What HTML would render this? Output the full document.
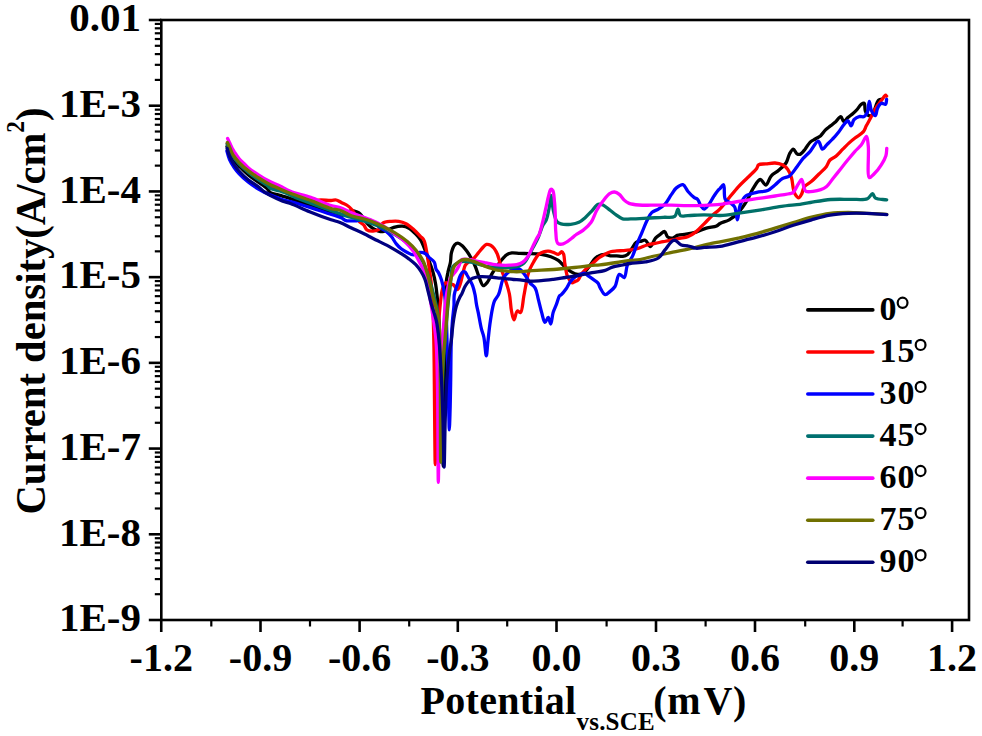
<!DOCTYPE html>
<html><head><meta charset="utf-8"><style>
html,body{margin:0;padding:0;background:#fff;}
svg{display:block;}
.t{font-family:"Liberation Serif",serif;font-weight:bold;font-size:40px;fill:#000;}
.lg{font-family:"Liberation Serif",serif;font-weight:bold;font-size:34px;letter-spacing:1px;fill:#000;}
</style></head><body>
<svg width="982" height="736" viewBox="0 0 982 736">
<g fill="none" stroke-width="2.6" stroke-linejoin="round" stroke-linecap="round">
<path d="M227.0,146.5 C227.8,148.3 228.6,150.1 229.5,152.0 C230.4,154.0 231.4,156.3 232.4,158.0 C233.2,159.4 234.0,160.3 235.0,161.5 C236.2,162.9 237.3,164.3 239.0,166.0 C241.5,168.5 245.2,172.3 248.5,175.0 C251.6,177.6 254.8,179.7 258.0,182.0 C261.2,184.3 265.4,187.0 267.5,189.0 C268.7,190.2 268.7,191.4 270.0,192.3 C272.1,193.8 277.4,194.6 280.2,195.4 C282.2,196.0 283.0,196.2 285.3,196.9 C290.6,198.6 302.5,202.6 310.7,205.5 C318.4,208.2 327.4,212.0 333.1,213.7 C336.5,214.7 338.9,216.0 341.3,215.7 C343.4,215.4 345.2,213.4 347.0,212.5 C348.6,211.7 350.3,210.8 351.5,210.6 C352.3,210.5 352.7,210.7 353.5,210.9 C354.8,211.2 357.3,211.9 358.6,212.7 C359.6,213.3 359.9,213.7 360.8,214.6 C362.6,216.5 365.6,221.8 368.1,224.4 C370.1,226.5 372.1,228.1 374.3,229.3 C376.3,230.4 378.3,231.5 380.4,231.7 C382.4,231.9 384.4,231.1 386.5,230.5 C388.9,229.8 391.2,228.1 393.8,227.4 C396.5,226.7 399.8,226.0 402.4,226.2 C404.6,226.4 406.5,226.9 408.5,228.0 C411.0,229.3 413.7,232.0 415.8,234.1 C417.7,236.0 419.2,237.7 420.6,240.0 C422.3,242.8 423.6,246.5 425.0,250.0 C426.5,253.8 428.1,258.1 429.5,262.0 C430.8,265.7 432.2,269.3 433.2,273.0 C434.2,276.6 434.9,280.0 435.6,284.0 C436.4,288.8 436.9,293.8 437.5,300.0 C438.3,308.4 438.9,318.7 439.5,330.0 C440.3,344.5 441.0,363.3 441.5,380.0 C442.0,396.7 442.2,414.7 442.5,430.0 C442.8,443.0 443.0,466.0 443.2,466.0 C443.5,466.0 443.8,434.8 444.0,420.0 C444.2,406.2 444.3,394.1 444.5,380.0 C444.7,364.3 444.8,344.5 445.0,330.0 C445.2,318.7 445.3,308.4 445.5,300.0 C445.6,293.8 445.5,288.8 446.0,284.0 C446.4,279.9 447.0,276.6 447.8,272.9 C448.5,269.2 449.9,265.5 450.5,262.0 C451.0,258.9 450.7,255.8 451.4,252.9 C452.1,250.1 453.3,246.4 454.7,244.8 C455.6,243.8 456.8,243.2 457.9,243.2 C459.2,243.2 460.7,244.5 462.0,245.6 C463.7,247.0 465.4,249.3 466.9,251.3 C468.4,253.3 469.7,255.5 471.0,257.8 C472.4,260.3 473.8,263.0 475.1,266.0 C476.6,269.4 477.7,273.9 479.2,277.4 C480.5,280.4 481.6,285.2 483.2,285.6 C484.4,285.9 486.0,283.8 487.3,282.3 C489.1,280.2 490.5,276.1 492.2,273.3 C493.8,270.7 495.4,268.3 497.1,266.0 C498.7,263.7 500.3,261.5 502.0,259.5 C503.6,257.7 505.1,255.7 506.9,254.6 C508.4,253.6 509.9,253.2 511.8,252.9 C514.2,252.6 517.2,253.3 520.0,253.4 C522.9,253.5 525.7,253.5 528.9,253.6 C532.7,253.7 537.4,253.7 541.2,254.3 C544.7,254.8 547.9,255.6 550.9,256.7 C553.6,257.7 556.1,258.8 558.3,260.4 C560.6,262.0 562.3,264.6 564.4,266.5 C566.4,268.3 568.3,270.1 570.5,271.4 C572.8,272.7 575.5,274.3 577.9,274.4 C580.0,274.5 582.1,273.8 584.0,272.6 C586.3,271.1 588.2,267.7 590.1,265.3 C591.9,262.9 593.3,260.0 595.3,258.2 C597.1,256.6 599.4,255.4 601.4,254.8 C603.0,254.3 604.5,254.3 606.0,254.5 C607.5,254.7 608.9,255.6 610.5,255.8 C612.4,256.1 614.6,255.7 616.7,255.8 C618.7,255.9 620.9,256.7 622.8,256.4 C624.5,256.2 626.2,255.6 627.6,254.5 C629.3,253.2 630.5,250.4 631.9,248.4 C633.3,246.4 634.6,243.4 636.2,242.3 C637.4,241.5 638.8,241.8 640.2,241.5 C641.8,241.2 643.7,239.8 645.3,240.3 C647.2,240.9 648.8,246.6 650.4,246.5 C652.2,246.4 653.6,240.3 655.5,238.2 C657.0,236.5 658.9,235.4 660.5,234.2 C661.9,233.2 663.4,231.2 664.6,231.5 C665.9,231.8 666.2,235.9 667.7,237.0 C669.0,238.0 671.1,238.3 672.8,238.0 C674.6,237.7 675.9,235.8 677.9,235.2 C680.2,234.4 683.2,234.7 686.0,234.2 C689.2,233.7 692.8,233.1 696.2,232.1 C699.6,231.1 703.0,229.1 706.4,228.1 C709.8,227.1 714.2,227.1 716.6,226.0 C718.1,225.3 718.5,224.3 720.0,223.5 C722.3,222.2 726.3,221.5 729.2,219.8 C732.4,217.9 735.5,215.5 738.3,212.5 C741.6,209.0 745.0,203.8 747.5,199.6 C749.7,195.9 750.8,192.0 753.0,188.6 C755.1,185.3 758.0,179.6 760.3,179.5 C762.2,179.4 764.1,185.2 765.8,185.0 C767.8,184.8 769.0,178.3 771.3,175.8 C773.4,173.5 776.3,172.4 778.7,170.3 C781.2,168.1 784.2,165.8 786.0,163.0 C787.8,160.3 788.2,156.3 789.6,153.8 C790.7,151.9 792.1,149.2 793.3,149.2 C794.5,149.2 795.7,153.0 797.0,153.8 C798.0,154.4 799.0,154.6 800.0,154.3 C801.6,153.8 803.5,151.1 805.1,149.2 C806.9,147.1 808.3,143.9 810.2,142.1 C811.8,140.6 813.6,140.0 815.3,139.0 C817.0,138.0 818.8,137.3 820.4,136.0 C822.2,134.4 823.7,131.7 825.5,129.9 C827.1,128.3 828.9,127.2 830.6,125.8 C832.3,124.4 834.0,123.2 835.7,121.7 C837.4,120.1 839.4,116.4 840.8,116.6 C842.1,116.8 842.6,121.5 843.8,121.7 C845.0,121.9 846.4,118.9 847.9,117.6 C849.5,116.2 851.4,114.9 853.0,113.5 C854.5,112.2 855.8,111.0 857.1,109.5 C858.5,107.9 859.8,105.4 861.2,104.4 C862.2,103.7 863.5,102.9 864.2,103.3 C865.2,103.9 864.6,108.5 865.2,110.5 C865.7,112.1 866.2,113.8 867.3,114.6 C868.3,115.4 870.1,116.2 871.4,115.6 C874.0,114.3 876.2,102.4 878.5,100.3 C879.5,99.4 880.5,99.6 881.5,99.3" stroke="#000000" stroke-width="3.3"/>
<path d="M227.3,143.5 C228.0,145.2 228.7,146.7 229.5,148.5 C230.4,150.5 231.1,152.8 232.4,155.0 C234.0,157.7 236.5,160.8 239.0,163.5 C241.8,166.5 245.2,169.5 248.5,172.0 C251.6,174.4 254.8,176.5 258.0,178.5 C261.1,180.5 264.1,182.3 267.5,184.0 C271.3,185.9 276.0,187.8 280.0,189.5 C283.6,191.1 286.3,192.5 290.4,194.0 C296.0,196.1 305.0,199.8 310.7,200.5 C314.6,201.0 317.5,200.0 320.9,200.0 C324.3,200.0 328.3,200.6 331.1,200.5 C333.1,200.5 334.5,199.7 336.2,200.0 C337.9,200.3 339.5,201.6 341.3,202.5 C343.2,203.5 345.6,204.2 347.4,205.5 C349.2,206.7 350.8,208.3 352.2,210.0 C353.7,211.8 354.8,214.0 356.0,216.0 C357.2,217.9 358.2,220.3 359.6,221.8 C360.8,223.1 362.5,223.6 363.7,224.9 C365.0,226.3 365.4,228.9 366.9,229.9 C368.5,231.0 371.0,231.2 373.0,231.1 C375.0,231.0 377.5,230.5 379.1,229.3 C380.8,228.0 380.9,224.4 382.8,223.1 C384.9,221.6 388.6,221.6 391.4,221.3 C393.9,221.0 396.3,220.9 398.7,221.3 C401.2,221.7 403.7,222.5 406.0,223.7 C408.6,225.0 411.0,227.2 413.4,229.3 C415.9,231.5 418.8,234.6 420.7,236.6 C422.0,237.9 423.0,238.4 423.8,240.0 C425.1,242.3 425.6,246.3 426.3,249.8 C427.1,253.6 427.7,258.0 428.3,262.0 C428.9,265.7 429.4,269.5 429.9,272.9 C430.3,275.8 430.6,277.7 431.0,281.0 C431.5,286.0 432.1,292.5 432.5,300.0 C433.1,310.9 433.5,325.3 433.8,340.0 C434.2,358.0 434.3,379.6 434.5,400.0 C434.7,421.1 435.0,464.6 435.2,464.6 C435.5,464.6 435.7,419.0 436.0,400.0 C436.2,385.1 436.3,371.8 436.6,360.0 C436.8,350.7 437.0,342.5 437.5,335.0 C437.9,328.8 438.5,323.6 439.0,318.0 C439.5,312.6 439.9,307.0 440.5,302.0 C441.1,297.4 441.4,292.5 442.5,289.0 C443.3,286.4 444.3,283.2 445.7,282.7 C446.7,282.3 447.8,283.7 449.0,284.0 C450.3,284.4 452.0,284.1 453.3,284.8 C454.9,285.7 456.4,289.7 457.6,289.5 C458.8,289.3 459.5,286.0 460.3,283.7 C461.4,280.7 462.1,276.2 463.0,272.9 C463.8,270.1 464.1,267.2 465.3,265.2 C466.3,263.5 467.9,262.3 469.4,261.1 C470.9,259.9 472.8,259.1 474.3,257.8 C475.8,256.4 477.0,254.5 478.3,252.9 C479.7,251.3 481.0,249.5 482.4,248.0 C483.7,246.7 485.0,244.8 486.5,244.4 C487.8,244.1 489.4,244.6 490.6,245.2 C491.8,245.8 492.8,246.8 493.8,248.0 C495.0,249.5 496.2,251.4 497.1,253.5 C498.2,255.9 498.8,258.8 499.6,261.6 C500.4,264.6 501.0,267.8 502.0,271.0 C503.0,274.4 504.5,277.6 505.7,281.2 C507.0,285.2 508.5,289.4 509.4,294.0 C510.5,299.2 510.5,306.3 511.5,311.0 C512.2,314.5 513.0,319.9 514.0,319.9 C515.0,319.9 515.8,311.6 517.3,311.0 C518.2,310.6 519.6,313.0 520.5,312.6 C522.4,311.7 522.8,301.4 523.8,296.3 C524.7,291.7 525.3,287.5 526.2,283.3 C527.0,279.2 527.6,275.1 528.9,271.4 C530.2,267.9 532.1,264.6 533.8,261.6 C535.4,258.9 536.8,256.0 538.7,254.3 C540.2,253.0 541.9,252.3 543.6,251.8 C545.2,251.3 546.9,251.1 548.5,251.2 C550.1,251.3 551.8,251.9 553.4,252.4 C555.1,252.9 556.9,254.5 558.3,254.3 C559.6,254.1 560.8,251.6 561.7,251.7 C562.5,251.8 563.1,253.0 563.6,254.2 C564.4,256.2 564.4,260.4 564.8,263.3 C565.2,265.9 565.6,268.5 566.0,270.7 C566.4,272.5 566.6,274.1 567.2,275.6 C567.7,276.9 568.3,278.0 569.1,279.2 C569.9,280.5 571.0,282.7 572.1,282.9 C572.9,283.1 573.7,282.2 574.6,281.7 C575.7,281.1 577.2,280.8 578.2,279.8 C579.5,278.5 580.1,276.0 581.3,274.3 C582.5,272.6 584.1,270.9 585.6,269.4 C587.1,267.9 588.9,266.6 590.5,265.2 C592.0,263.9 593.3,262.7 594.7,261.5 C596.1,260.3 597.4,259.0 599.0,257.8 C600.8,256.5 603.0,255.2 605.0,254.2 C606.8,253.2 608.6,252.3 610.5,251.7 C612.5,251.1 614.7,251.1 616.7,250.9 C618.7,250.7 620.5,250.8 622.6,250.7 C625.1,250.5 628.0,250.3 630.7,249.9 C633.4,249.5 636.2,249.0 638.9,248.2 C641.6,247.4 644.3,245.8 647.0,245.0 C649.7,244.2 652.5,243.9 655.2,243.3 C657.9,242.8 660.6,242.2 663.3,241.7 C666.0,241.2 668.8,240.7 671.5,240.1 C674.2,239.6 676.9,238.9 679.6,238.4 C682.3,237.8 685.2,237.8 687.8,236.8 C690.6,235.7 693.3,233.9 695.9,231.9 C698.8,229.7 701.4,226.5 704.1,223.8 C706.8,221.1 709.5,218.2 712.2,215.6 C714.8,213.2 717.4,211.5 720.0,208.8 C723.1,205.7 726.1,201.5 729.2,197.8 C732.2,194.1 735.2,190.2 738.3,186.8 C741.3,183.5 744.4,180.7 747.5,177.7 C750.6,174.6 754.9,171.0 756.7,168.5 C757.7,167.1 757.4,165.6 758.5,164.8 C760.0,163.7 763.2,164.2 765.8,163.9 C768.7,163.6 772.1,162.8 775.0,163.0 C777.6,163.2 780.1,163.7 782.3,164.8 C784.4,165.9 786.3,167.4 787.8,169.4 C789.5,171.6 790.6,174.7 791.5,177.7 C792.5,181.0 792.6,185.6 793.3,188.6 C793.8,190.8 794.1,192.5 795.1,194.1 C796.0,195.6 797.7,197.9 798.8,197.8 C799.8,197.7 800.8,195.6 801.6,194.1 C802.7,192.1 802.8,188.9 804.3,186.8 C806.0,184.5 809.2,183.4 811.6,181.3 C814.1,179.1 816.5,176.4 819.0,174.0 C821.4,171.6 824.4,169.2 826.3,166.7 C827.9,164.5 828.4,161.7 830.0,160.0 C831.5,158.4 833.8,157.9 835.7,156.4 C838.0,154.5 840.5,151.5 842.8,149.2 C844.9,147.1 846.8,145.0 848.9,143.1 C850.9,141.3 852.8,139.7 855.0,138.0 C857.5,136.0 861.3,134.2 863.2,131.9 C864.8,130.0 865.2,127.9 866.3,125.8 C867.5,123.5 869.1,120.9 870.3,118.6 C871.4,116.5 872.3,114.6 873.4,112.5 C874.6,110.2 876.1,107.5 877.5,105.4 C878.8,103.5 880.2,102.0 881.5,100.3 C882.9,98.6 884.7,95.3 885.6,95.2 C886.0,95.2 886.3,95.9 886.6,96.2" stroke="#ff0000" stroke-width="3.3"/>
<path d="M226.9,151.0 C227.7,153.7 228.2,156.3 229.3,159.0 C230.6,161.9 232.5,165.2 234.3,167.8 C235.8,170.0 237.1,171.5 239.0,173.5 C241.5,176.2 245.2,179.6 248.5,182.2 C251.6,184.7 255.1,187.0 258.0,188.8 C260.4,190.3 262.7,191.4 264.8,192.5 C266.6,193.4 267.9,193.9 270.0,194.8 C273.3,196.2 279.0,198.5 282.7,199.7 C285.6,200.6 287.2,200.7 290.4,201.5 C295.6,202.9 304.4,205.6 310.7,207.6 C316.2,209.3 320.9,211.0 326.0,212.7 C331.1,214.4 337.7,216.1 341.3,217.8 C343.4,218.8 344.4,220.2 346.1,220.7 C347.8,221.2 349.7,220.8 351.5,220.8 C353.2,220.8 354.9,221.0 356.6,220.8 C358.3,220.6 359.7,220.0 361.6,219.8 C364.0,219.6 367.2,219.0 370.0,220.0 C373.5,221.2 377.3,225.9 380.4,228.0 C382.7,229.5 384.7,230.3 386.5,231.7 C388.3,233.1 389.9,234.7 391.4,236.6 C393.1,238.7 394.6,241.8 396.3,243.9 C397.8,245.8 399.4,247.4 401.2,248.8 C403.0,250.2 405.2,251.5 407.3,252.5 C409.3,253.5 411.4,254.9 413.4,254.9 C415.4,254.9 417.4,252.7 419.5,252.5 C421.5,252.3 423.9,252.8 425.6,253.7 C427.2,254.6 428.2,256.5 429.6,257.9 C431.1,259.3 433.1,260.2 434.2,262.0 C435.4,263.9 435.2,267.4 436.1,269.3 C436.8,270.8 437.8,271.4 438.6,272.9 C439.6,274.8 440.6,277.2 441.5,280.0 C442.7,284.0 443.9,289.6 444.6,294.6 C445.4,299.6 445.6,304.0 446.0,310.0 C446.5,318.3 446.7,329.3 447.0,340.0 C447.4,352.4 447.7,367.3 448.0,380.0 C448.3,391.7 448.5,404.3 448.8,413.5 C449.0,419.9 449.1,429.8 449.3,429.8 C449.5,429.8 449.8,419.5 450.0,413.0 C450.3,403.8 450.5,391.5 450.7,380.0 C450.9,367.3 450.9,350.8 451.3,340.0 C451.6,332.7 451.9,327.5 452.4,321.5 C452.8,315.9 453.7,310.1 454.0,305.2 C454.2,301.3 453.7,298.1 454.3,294.6 C454.9,291.0 456.5,287.1 457.6,283.7 C458.5,280.8 459.2,277.7 460.3,275.6 C461.1,274.0 462.0,272.2 463.0,271.8 C463.6,271.5 464.4,271.6 465.0,272.0 C465.8,272.5 466.3,273.8 467.0,275.0 C468.0,276.6 469.2,278.9 470.2,280.7 C471.1,282.4 471.9,283.7 472.6,285.6 C473.6,288.2 474.4,291.8 475.1,295.0 C475.7,298.1 475.9,301.3 476.5,304.4 C477.0,307.4 477.7,309.9 478.4,313.3 C479.3,317.8 480.3,324.6 481.4,328.9 C482.2,332.1 483.1,333.7 483.8,337.0 C484.9,341.9 485.6,355.8 486.3,355.8 C486.9,355.8 487.3,347.0 487.9,341.9 C488.6,335.6 489.3,327.6 490.4,320.7 C491.5,314.0 492.5,305.8 494.4,301.2 C495.6,298.3 497.3,297.4 498.5,294.7 C500.2,290.9 501.3,283.2 502.6,280.0 C503.3,278.3 503.6,277.5 504.5,276.3 C505.7,274.7 507.7,272.7 509.4,271.4 C510.9,270.3 512.6,269.3 514.3,268.9 C515.9,268.5 517.6,268.3 519.1,268.9 C520.9,269.6 522.5,271.9 524.0,273.8 C525.7,275.9 527.8,279.5 528.9,281.2 C529.5,282.1 529.6,282.5 530.3,283.3 C531.4,284.6 533.9,285.9 535.2,288.1 C536.9,291.0 537.3,295.6 538.4,299.6 C539.5,303.8 540.5,308.6 541.7,312.6 C542.7,316.1 543.7,322.2 545.0,322.4 C546.0,322.5 547.3,317.4 548.2,317.5 C549.2,317.6 550.0,324.1 550.7,324.0 C551.7,323.9 552.1,316.0 553.1,312.6 C554.0,309.6 555.3,307.2 556.4,304.4 C557.5,301.6 558.4,297.2 559.5,295.8 C560.0,295.1 560.5,295.3 561.2,294.7 C562.5,293.6 564.5,291.1 566.0,289.0 C567.6,286.8 568.7,283.8 570.3,281.7 C571.8,279.8 573.5,277.9 575.2,276.8 C576.6,275.9 577.9,275.6 579.4,275.0 C581.0,274.4 582.8,272.9 584.3,273.1 C585.8,273.3 587.2,275.2 588.6,276.2 C590.0,277.2 591.4,278.1 592.9,279.2 C594.5,280.4 596.6,281.4 597.8,282.9 C599.0,284.3 599.2,286.1 600.2,287.8 C601.5,290.0 603.4,294.4 605.2,294.7 C606.7,295.0 608.5,292.7 610.1,291.4 C611.8,290.0 613.6,288.7 615.0,286.5 C616.9,283.5 617.3,275.0 619.3,274.3 C620.7,273.8 622.9,278.1 624.2,277.6 C626.1,276.9 625.9,268.2 627.5,264.5 C628.8,261.4 630.9,259.5 632.4,256.4 C634.2,252.6 635.6,247.5 637.3,243.3 C638.9,239.3 640.6,235.7 642.2,231.9 C643.8,228.1 645.3,223.9 647.0,220.5 C648.5,217.5 649.8,214.3 651.9,212.4 C653.7,210.7 656.3,210.4 658.4,209.1 C660.7,207.7 663.0,206.3 665.0,204.2 C667.4,201.6 669.4,197.3 671.5,194.4 C673.2,192.0 674.4,189.5 676.4,187.9 C678.3,186.4 681.0,184.3 682.9,184.7 C684.9,185.2 686.0,189.1 687.8,191.2 C689.7,193.4 692.4,196.3 694.3,197.7 C695.5,198.6 696.6,198.3 697.6,199.3 C699.0,200.7 699.6,204.2 700.8,205.9 C701.8,207.3 702.9,209.1 704.1,209.1 C705.6,209.1 707.5,206.1 709.0,204.2 C710.8,201.9 712.2,198.6 713.9,196.1 C715.5,193.8 717.5,190.8 718.7,189.6 C719.2,189.1 719.5,189.1 720.0,188.6 C720.9,187.8 722.7,184.4 723.6,184.7 C725.1,185.2 723.4,196.2 725.3,199.3 C726.6,201.5 729.4,201.9 731.0,203.3 C732.4,204.5 733.7,205.2 734.7,207.0 C736.2,209.8 736.5,219.8 737.4,219.8 C738.3,219.8 738.6,209.3 740.2,205.1 C741.6,201.6 743.0,198.1 745.7,196.0 C748.5,193.8 753.0,193.2 756.7,192.3 C760.3,191.4 764.5,191.8 767.7,190.5 C770.6,189.3 772.6,186.9 775.0,185.0 C777.5,183.0 779.7,180.2 782.3,178.6 C784.6,177.2 787.4,177.4 789.6,175.8 C792.3,173.8 794.7,169.7 797.0,166.7 C799.2,163.9 800.9,161.0 803.1,158.4 C805.3,155.9 807.8,154.0 810.2,151.3 C812.9,148.3 816.2,140.9 818.3,141.1 C820.1,141.3 820.8,149.0 822.4,149.2 C823.6,149.4 825.0,146.6 826.5,145.1 C828.3,143.3 830.6,141.2 832.6,139.0 C834.7,136.8 836.8,134.3 838.7,131.9 C840.5,129.6 842.1,126.8 843.8,124.8 C845.2,123.2 846.7,120.6 847.9,120.7 C849.1,120.8 850.0,125.8 851.0,125.8 C852.1,125.8 852.6,121.3 854.0,119.7 C855.3,118.2 857.3,117.1 859.1,116.6 C860.7,116.1 862.8,117.3 864.2,116.6 C865.6,115.9 866.5,114.3 867.3,112.5 C868.5,109.8 868.6,101.3 869.3,101.3 C870.0,101.3 870.2,108.0 871.4,110.5 C872.4,112.6 874.4,115.8 875.4,115.6 C876.5,115.4 876.4,110.5 877.5,108.4 C878.5,106.4 880.0,103.8 881.5,103.3 C882.7,102.9 884.7,104.9 885.6,104.4 C886.6,103.8 886.3,101.0 886.6,99.3" stroke="#0000ff" stroke-width="3.3"/>
<path d="M227.2,144.0 C228.0,145.8 228.7,147.6 229.5,149.5 C230.4,151.5 231.1,153.4 232.4,155.5 C234.1,158.2 236.5,161.3 239.0,164.0 C241.8,167.0 245.3,169.9 248.5,172.5 C251.6,175.0 254.8,177.3 258.0,179.5 C261.1,181.6 265.4,183.8 267.5,185.5 C268.7,186.5 268.7,187.4 270.0,188.2 C272.1,189.5 276.1,189.7 280.0,191.0 C285.7,192.9 293.0,196.5 300.5,199.4 C309.7,202.9 321.9,207.4 331.1,210.6 C338.6,213.2 344.8,215.4 351.5,217.5 C357.8,219.5 364.4,221.0 370.0,222.9 C374.7,224.5 378.6,226.1 382.8,228.0 C387.0,229.9 391.0,232.1 395.0,234.5 C399.2,237.0 403.7,240.0 407.3,243.0 C410.5,245.7 413.2,248.3 415.8,251.5 C418.5,254.8 421.3,258.9 423.2,262.5 C424.9,265.7 425.8,268.6 427.0,272.0 C428.4,276.0 429.7,280.7 431.0,285.0 C432.2,289.3 433.4,293.6 434.5,298.0 C435.6,302.6 436.7,306.7 437.5,312.0 C438.5,318.7 439.0,326.0 439.5,335.0 C440.2,347.5 440.2,362.8 440.5,380.0 C440.9,403.3 440.9,462.0 441.2,462.0 C441.4,462.0 441.5,418.4 442.0,400.0 C442.4,385.2 442.8,371.3 443.5,360.0 C444.0,351.6 444.7,345.3 445.3,338.0 C445.9,330.7 446.4,322.7 447.0,316.0 C447.5,310.2 448.0,304.7 448.5,300.0 C448.9,296.3 449.4,293.5 449.8,290.0 C450.2,286.2 450.6,281.8 451.0,278.0 C451.4,274.5 451.2,270.4 452.2,268.0 C452.9,266.4 453.8,265.5 455.0,264.5 C456.3,263.4 458.2,262.5 460.0,262.0 C461.9,261.5 464.0,261.4 466.0,261.5 C468.2,261.6 470.3,262.0 472.6,262.5 C475.2,263.1 478.0,264.3 480.8,265.0 C483.8,265.8 486.9,266.6 490.0,267.0 C493.2,267.4 496.7,267.4 500.0,267.5 C503.3,267.6 506.9,267.7 510.0,267.5 C512.8,267.3 515.6,267.3 518.0,266.5 C520.2,265.7 522.3,264.6 524.0,263.0 C525.7,261.4 526.7,259.3 528.0,257.0 C529.6,254.2 531.3,250.7 533.0,247.5 C534.7,244.3 536.4,241.5 538.0,238.0 C539.8,234.1 541.3,228.3 543.0,225.0 C544.1,222.8 545.4,222.1 546.3,219.8 C547.8,216.3 548.8,209.6 549.6,205.2 C550.2,201.6 550.3,195.4 550.8,195.4 C551.5,195.4 552.4,207.0 553.6,211.7 C554.5,215.4 555.3,219.5 556.9,221.5 C558.0,222.9 559.3,223.4 561.0,223.9 C563.5,224.6 567.6,224.6 570.7,224.3 C573.6,224.0 576.4,223.5 578.9,222.3 C581.3,221.2 583.3,219.2 585.4,217.4 C587.6,215.5 589.8,213.1 591.9,210.9 C594.0,208.7 595.9,204.9 598.1,204.2 C599.7,203.7 601.3,204.3 603.0,205.0 C605.1,205.9 607.4,208.3 609.6,209.9 C611.8,211.5 613.9,213.3 616.1,214.8 C618.2,216.3 620.2,218.2 622.6,218.9 C625.1,219.6 627.5,219.0 630.7,218.9 C635.2,218.8 641.6,218.4 647.0,218.1 C652.4,217.8 658.4,217.6 663.3,217.3 C667.4,217.0 672.3,218.1 674.7,216.4 C676.7,215.0 677.0,209.1 678.0,209.1 C678.9,209.1 678.8,214.5 680.4,215.6 C682.0,216.7 684.9,215.7 687.8,215.6 C692.2,215.5 698.7,214.8 704.1,214.8 C709.5,214.8 714.7,215.7 720.4,215.5 C726.8,215.2 733.9,213.8 740.7,212.9 C747.5,212.0 754.3,211.0 761.1,209.9 C767.9,208.8 774.9,207.2 781.5,206.3 C787.8,205.4 794.7,205.0 800.0,204.3 C804.0,203.7 806.4,203.1 810.4,202.5 C816.0,201.6 823.9,200.0 830.7,199.5 C837.5,199.0 844.7,199.4 851.1,199.3 C856.8,199.2 863.7,200.3 867.4,198.7 C869.9,197.6 871.1,193.6 872.5,193.7 C873.7,193.8 873.9,197.2 875.5,198.2 C877.9,199.7 883.0,199.3 886.7,199.8" stroke="#007068" stroke-width="3.3"/>
<path d="M227.6,138.5 C228.2,139.8 228.8,141.1 229.5,142.5 C230.3,144.1 231.2,146.2 232.0,147.8 C232.8,149.2 233.4,150.3 234.3,151.8 C235.6,153.8 237.3,156.5 239.0,158.5 C240.6,160.4 242.4,161.9 244.0,163.5 C245.5,165.0 246.6,166.4 248.5,168.0 C251.0,170.1 254.8,172.5 258.0,174.6 C261.1,176.6 264.1,178.5 267.5,180.3 C271.3,182.3 276.0,184.1 280.0,186.0 C283.6,187.8 286.3,189.6 290.4,191.3 C296.0,193.5 304.0,195.1 310.7,197.4 C317.5,199.8 325.6,203.8 331.1,205.5 C334.6,206.6 336.9,206.5 340.0,207.5 C343.6,208.7 347.5,211.1 351.5,212.7 C355.7,214.4 361.1,216.2 364.5,217.5 C366.7,218.3 367.8,218.6 370.0,219.5 C373.4,220.9 378.7,223.2 382.8,225.6 C387.0,228.1 391.2,231.3 395.0,234.1 C398.5,236.6 401.8,238.7 404.8,241.5 C407.9,244.4 410.9,247.8 413.4,251.3 C415.8,254.7 417.5,258.7 419.5,262.3 C421.4,265.9 423.5,268.7 425.0,272.9 C426.9,278.2 427.6,285.2 428.9,292.0 C430.3,299.7 431.8,308.6 433.0,316.7 C434.2,324.6 435.3,331.2 436.0,340.0 C436.9,351.5 437.0,363.6 437.4,380.0 C438.0,406.2 438.0,482.3 438.3,482.3 C438.6,482.3 438.8,439.6 439.2,420.0 C439.6,402.4 439.9,384.5 440.5,370.0 C441.0,358.7 441.8,349.0 442.4,340.0 C442.9,332.7 443.5,326.5 444.0,320.0 C444.5,313.8 444.8,307.5 445.5,302.0 C446.1,297.3 446.6,293.1 447.5,289.0 C448.3,285.2 449.0,281.0 450.5,278.0 C451.8,275.5 454.0,273.8 455.4,271.8 C456.7,270.0 457.6,268.3 458.7,266.3 C459.8,264.2 460.3,260.6 462.0,259.5 C463.6,258.5 466.2,259.3 468.5,259.5 C471.1,259.7 474.0,260.6 476.7,261.1 C479.4,261.6 482.2,262.1 484.9,262.7 C487.6,263.2 490.3,264.0 493.0,264.4 C495.7,264.8 498.5,265.1 501.2,265.2 C503.9,265.3 506.7,265.3 509.3,265.2 C511.8,265.1 514.4,265.1 516.7,264.6 C518.9,264.1 521.0,263.5 522.8,262.2 C524.7,260.9 526.2,258.9 527.7,256.7 C529.5,254.0 531.0,250.2 532.6,246.9 C534.2,243.6 536.3,239.1 537.5,237.1 C538.1,236.1 538.5,236.1 539.0,235.0 C540.2,232.4 541.8,225.4 543.0,220.6 C544.2,215.8 545.3,210.5 546.3,206.0 C547.2,202.2 547.8,198.4 548.7,195.4 C549.4,193.1 549.8,189.6 550.8,189.3 C551.4,189.1 552.3,189.7 552.8,190.5 C554.0,192.3 554.1,197.9 554.5,201.9 C555.0,206.3 555.1,210.9 555.3,215.7 C555.5,220.9 555.3,227.1 555.8,232.0 C556.2,236.1 555.9,241.5 557.7,243.2 C559.0,244.4 561.3,244.4 563.2,243.9 C565.8,243.3 569.5,240.0 571.7,238.3 C573.3,237.1 574.0,236.1 575.6,235.0 C577.6,233.5 580.6,232.3 583.0,230.4 C585.8,228.2 588.9,225.5 591.1,222.3 C593.4,219.0 594.5,214.3 596.5,210.7 C598.4,207.2 600.7,203.9 603.0,201.0 C605.1,198.3 607.4,195.1 609.6,193.6 C611.2,192.6 612.8,191.9 614.4,192.0 C616.0,192.1 617.8,193.2 619.3,194.4 C621.1,195.8 622.5,198.5 624.2,200.1 C625.7,201.5 627.1,202.6 629.1,203.4 C631.7,204.4 635.2,204.7 638.9,205.0 C643.6,205.4 649.8,205.2 655.2,205.2 C660.6,205.2 666.1,205.1 671.5,205.2 C676.9,205.3 682.4,205.6 687.8,205.6 C693.2,205.6 698.7,205.5 704.1,205.3 C709.5,205.1 714.9,204.9 720.4,204.3 C726.2,203.7 732.3,202.4 738.3,201.5 C744.4,200.6 750.6,199.6 756.7,198.7 C762.8,197.8 769.1,196.9 775.0,196.0 C780.6,195.1 788.8,194.1 791.5,193.2 C792.4,192.9 792.6,192.9 793.3,192.3 C794.8,190.9 797.2,185.5 798.8,183.2 C799.8,181.7 800.8,179.4 801.6,179.5 C802.8,179.7 803.3,186.5 804.3,188.6 C804.9,189.9 804.9,190.9 806.1,191.4 C808.5,192.5 817.2,190.7 820.8,189.6 C823.2,188.9 824.5,188.3 826.3,186.8 C828.8,184.8 831.2,180.7 833.6,177.7 C836.1,174.6 838.5,171.6 841.0,168.5 C843.4,165.4 845.9,162.2 848.3,159.3 C850.6,156.5 852.8,153.8 855.0,151.3 C857.1,149.1 859.3,147.5 861.2,145.1 C863.2,142.6 865.3,136.3 866.5,136.5 C867.7,136.7 867.8,142.0 868.3,146.2 C869.1,153.7 866.8,176.5 869.4,177.7 C870.5,178.2 872.4,175.6 874.0,174.0 C876.3,171.7 879.3,168.0 881.3,164.8 C883.2,161.9 885.0,158.7 885.9,155.7 C886.7,153.2 886.5,150.8 886.8,148.3" stroke="#ff00ff" stroke-width="3.3"/>
<path d="M227.4,142.4 C228.1,143.9 228.8,145.3 229.5,147.0 C230.4,149.0 231.4,151.9 232.4,153.8 C233.2,155.3 234.0,156.2 235.0,157.5 C236.2,159.0 237.3,160.5 239.0,162.3 C241.4,164.8 245.2,168.3 248.5,170.9 C251.6,173.4 254.8,175.4 258.0,177.5 C261.1,179.5 264.1,181.4 267.5,183.2 C271.3,185.2 276.0,187.1 280.0,188.9 C283.6,190.5 286.3,191.7 290.4,193.3 C296.0,195.5 303.9,198.0 310.7,200.5 C317.5,203.1 325.6,207.0 331.1,208.6 C334.6,209.6 336.9,209.3 340.0,210.3 C343.7,211.5 347.5,214.3 351.5,215.7 C355.6,217.2 361.1,218.0 364.5,219.0 C366.7,219.6 367.8,220.0 370.0,220.8 C373.4,222.1 378.6,224.2 382.8,226.2 C387.0,228.2 391.0,230.4 395.0,232.9 C399.2,235.5 403.7,238.5 407.3,241.5 C410.5,244.2 413.2,246.8 415.8,250.0 C418.5,253.3 421.5,257.8 423.2,261.1 C424.4,263.4 424.7,264.9 425.5,267.4 C426.7,271.1 428.1,276.4 429.3,281.0 C430.5,285.6 431.4,290.4 432.5,295.0 C433.6,299.4 435.0,303.7 436.0,308.0 C437.0,312.2 438.1,316.0 438.7,320.7 C439.5,326.4 439.5,332.4 439.8,340.0 C440.2,350.9 440.2,364.3 440.3,380.0 C440.5,402.5 440.4,462.0 440.6,462.0 C440.8,462.0 441.0,418.4 441.5,400.0 C441.9,385.2 442.3,371.0 443.0,360.0 C443.5,352.2 444.3,346.7 444.9,340.0 C445.5,333.3 446.0,326.3 446.5,320.0 C446.9,314.5 447.2,309.8 447.7,304.4 C448.2,298.6 448.7,291.7 449.5,286.5 C450.1,282.4 450.8,279.0 451.6,275.6 C452.3,272.7 452.8,269.5 453.8,267.4 C454.5,265.8 455.4,264.7 456.5,263.6 C457.8,262.3 459.5,261.0 461.2,260.3 C462.7,259.7 464.4,259.4 466.1,259.5 C468.1,259.6 470.3,260.4 472.6,261.1 C475.2,261.9 478.1,263.3 480.8,264.4 C483.5,265.5 486.2,266.6 488.9,267.6 C491.6,268.5 494.3,269.6 497.1,270.1 C499.8,270.6 502.6,270.6 505.3,270.9 C508.0,271.2 510.8,271.6 513.4,271.7 C515.7,271.8 517.6,271.8 520.0,271.7 C522.7,271.6 525.7,271.0 528.9,270.8 C532.7,270.5 537.1,270.4 541.2,270.2 C545.3,270.0 549.3,269.8 553.4,269.5 C557.5,269.2 561.5,268.7 565.6,268.3 C569.7,267.9 573.8,267.6 577.9,267.1 C582.0,266.7 586.2,266.0 590.1,265.6 C593.6,265.2 596.3,265.2 600.0,264.8 C604.8,264.3 611.5,263.3 616.7,262.5 C621.4,261.8 625.9,261.0 630.0,260.5 C633.6,260.1 636.7,260.2 640.0,259.6 C643.5,259.0 646.3,257.9 650.4,257.0 C656.0,255.7 663.9,254.1 670.7,252.7 C677.5,251.3 684.3,250.0 691.1,248.4 C697.9,246.8 706.1,244.4 711.5,243.3 C714.9,242.6 716.6,242.4 720.0,241.8 C724.9,240.9 732.2,239.5 738.3,238.1 C744.4,236.7 750.6,235.3 756.7,233.6 C762.8,231.9 768.9,229.9 775.0,228.1 C781.1,226.3 787.2,224.4 793.3,222.6 C799.4,220.8 805.5,218.6 811.6,217.1 C817.7,215.6 823.8,214.2 830.0,213.4 C836.1,212.6 842.2,212.5 848.3,212.5 C854.4,212.5 860.3,213.1 866.6,213.4 C873.2,213.7 880.1,214.0 886.8,214.3" stroke="#707000" stroke-width="3.3"/>
<path d="M227.1,148.5 C227.9,151.0 228.4,153.4 229.5,156.0 C230.7,158.9 232.6,162.4 234.3,165.0 C235.8,167.3 237.1,168.9 239.0,171.0 C241.5,173.8 245.2,177.4 248.5,180.0 C251.6,182.5 255.1,184.3 258.0,186.5 C260.5,188.4 262.6,190.6 264.8,192.2 C266.6,193.5 267.8,194.2 270.0,195.4 C273.3,197.1 279.0,199.8 282.7,201.2 C285.5,202.3 287.3,202.4 290.4,203.5 C295.4,205.3 303.0,209.0 309.6,211.7 C316.5,214.5 325.5,217.9 331.1,219.8 C334.7,221.0 336.9,221.3 340.0,222.5 C343.6,223.9 347.5,226.1 351.5,228.0 C355.7,230.0 360.3,232.0 364.5,234.1 C368.6,236.1 372.6,238.2 376.7,240.3 C380.8,242.3 384.9,244.2 388.9,246.4 C393.0,248.7 397.7,251.5 401.2,253.7 C404.0,255.5 406.1,256.8 408.5,258.6 C411.0,260.5 413.7,262.5 415.8,264.7 C417.8,266.8 419.5,269.1 421.0,271.5 C422.6,274.0 423.9,276.5 425.0,279.5 C426.4,283.1 427.2,287.8 428.3,292.0 C429.4,296.1 430.2,300.0 431.4,304.4 C432.8,309.5 435.0,315.0 436.3,320.7 C437.6,326.8 438.2,332.4 439.0,340.0 C440.1,350.9 440.8,366.7 441.5,380.0 C442.2,393.3 442.6,406.1 443.0,420.0 C443.5,435.1 443.7,467.2 444.1,467.2 C444.5,467.2 444.7,435.1 445.2,420.0 C445.6,406.1 446.0,392.1 446.8,380.0 C447.5,369.8 448.6,359.4 449.5,352.0 C450.1,347.2 450.8,344.3 451.4,340.0 C452.0,335.1 452.2,329.5 453.0,324.0 C453.8,318.2 454.9,311.2 456.3,306.3 C457.3,302.7 458.7,299.5 459.8,297.3 C460.5,295.9 461.0,295.3 461.7,294.0 C462.7,292.0 463.8,288.7 465.0,286.5 C466.1,284.6 467.2,282.9 468.5,281.5 C469.7,280.2 470.9,279.0 472.6,278.2 C474.8,277.2 478.1,276.8 480.8,276.6 C483.5,276.4 486.2,276.8 488.9,277.0 C491.6,277.2 494.4,277.5 497.1,277.8 C499.8,278.1 502.6,278.3 505.3,278.6 C508.0,278.9 510.8,279.3 513.4,279.5 C515.7,279.7 517.6,279.7 520.0,279.9 C522.8,280.2 525.7,281.0 528.9,281.2 C532.7,281.4 537.1,280.9 541.2,280.6 C545.3,280.3 549.3,279.8 553.4,279.3 C557.5,278.8 561.5,278.1 565.6,277.5 C569.7,276.9 573.7,276.5 577.9,275.7 C582.5,274.9 587.6,273.5 592.2,272.6 C596.4,271.8 600.8,271.6 604.4,270.6 C607.4,269.7 609.5,268.1 612.4,267.2 C615.6,266.2 619.7,265.7 622.8,265.0 C625.4,264.5 627.1,263.9 630.0,263.5 C634.1,262.9 640.4,262.9 645.3,261.9 C649.9,261.0 655.0,260.3 658.4,258.0 C661.4,256.0 662.8,252.6 665.0,249.9 C667.2,247.2 669.5,243.3 671.5,241.7 C672.6,240.8 673.5,240.0 674.7,240.1 C676.5,240.3 679.0,244.1 681.3,245.0 C683.4,245.8 685.5,245.3 687.8,245.8 C690.4,246.3 693.2,247.9 695.9,248.2 C698.6,248.5 700.9,247.7 704.1,247.4 C708.5,247.0 714.6,247.2 720.0,246.4 C725.9,245.5 732.2,243.3 738.3,241.8 C744.4,240.3 750.6,238.9 756.7,237.2 C762.8,235.5 768.9,233.7 775.0,231.7 C781.1,229.7 787.2,227.3 793.3,225.3 C799.4,223.3 805.5,221.5 811.6,219.8 C817.7,218.1 823.8,216.3 830.0,215.2 C836.1,214.1 842.2,213.7 848.3,213.4 C854.4,213.1 860.4,213.2 866.6,213.4 C873.2,213.6 880.1,214.3 886.8,214.7" stroke="#000080" stroke-width="3.3"/>
</g>
<rect x="161.3" y="20" width="807.7" height="600" fill="none" stroke="#000" stroke-width="2.6"/>
<line x1="148.8" y1="620.00" x2="161.3" y2="620.00" stroke="#000" stroke-width="2.6"/>
<line x1="154.8" y1="594.20" x2="161.3" y2="594.20" stroke="#000" stroke-width="2.2"/>
<line x1="154.8" y1="579.10" x2="161.3" y2="579.10" stroke="#000" stroke-width="2.2"/>
<line x1="154.8" y1="568.39" x2="161.3" y2="568.39" stroke="#000" stroke-width="2.2"/>
<line x1="154.8" y1="560.09" x2="161.3" y2="560.09" stroke="#000" stroke-width="2.2"/>
<line x1="154.8" y1="553.30" x2="161.3" y2="553.30" stroke="#000" stroke-width="2.2"/>
<line x1="154.8" y1="547.56" x2="161.3" y2="547.56" stroke="#000" stroke-width="2.2"/>
<line x1="154.8" y1="542.59" x2="161.3" y2="542.59" stroke="#000" stroke-width="2.2"/>
<line x1="154.8" y1="538.21" x2="161.3" y2="538.21" stroke="#000" stroke-width="2.2"/>
<line x1="148.8" y1="534.29" x2="161.3" y2="534.29" stroke="#000" stroke-width="2.6"/>
<line x1="154.8" y1="508.48" x2="161.3" y2="508.48" stroke="#000" stroke-width="2.2"/>
<line x1="154.8" y1="493.39" x2="161.3" y2="493.39" stroke="#000" stroke-width="2.2"/>
<line x1="154.8" y1="482.68" x2="161.3" y2="482.68" stroke="#000" stroke-width="2.2"/>
<line x1="154.8" y1="474.37" x2="161.3" y2="474.37" stroke="#000" stroke-width="2.2"/>
<line x1="154.8" y1="467.59" x2="161.3" y2="467.59" stroke="#000" stroke-width="2.2"/>
<line x1="154.8" y1="461.85" x2="161.3" y2="461.85" stroke="#000" stroke-width="2.2"/>
<line x1="154.8" y1="456.88" x2="161.3" y2="456.88" stroke="#000" stroke-width="2.2"/>
<line x1="154.8" y1="452.49" x2="161.3" y2="452.49" stroke="#000" stroke-width="2.2"/>
<line x1="148.8" y1="448.57" x2="161.3" y2="448.57" stroke="#000" stroke-width="2.6"/>
<line x1="154.8" y1="422.77" x2="161.3" y2="422.77" stroke="#000" stroke-width="2.2"/>
<line x1="154.8" y1="407.68" x2="161.3" y2="407.68" stroke="#000" stroke-width="2.2"/>
<line x1="154.8" y1="396.97" x2="161.3" y2="396.97" stroke="#000" stroke-width="2.2"/>
<line x1="154.8" y1="388.66" x2="161.3" y2="388.66" stroke="#000" stroke-width="2.2"/>
<line x1="154.8" y1="381.87" x2="161.3" y2="381.87" stroke="#000" stroke-width="2.2"/>
<line x1="154.8" y1="376.13" x2="161.3" y2="376.13" stroke="#000" stroke-width="2.2"/>
<line x1="154.8" y1="371.16" x2="161.3" y2="371.16" stroke="#000" stroke-width="2.2"/>
<line x1="154.8" y1="366.78" x2="161.3" y2="366.78" stroke="#000" stroke-width="2.2"/>
<line x1="148.8" y1="362.86" x2="161.3" y2="362.86" stroke="#000" stroke-width="2.6"/>
<line x1="154.8" y1="337.05" x2="161.3" y2="337.05" stroke="#000" stroke-width="2.2"/>
<line x1="154.8" y1="321.96" x2="161.3" y2="321.96" stroke="#000" stroke-width="2.2"/>
<line x1="154.8" y1="311.25" x2="161.3" y2="311.25" stroke="#000" stroke-width="2.2"/>
<line x1="154.8" y1="302.95" x2="161.3" y2="302.95" stroke="#000" stroke-width="2.2"/>
<line x1="154.8" y1="296.16" x2="161.3" y2="296.16" stroke="#000" stroke-width="2.2"/>
<line x1="154.8" y1="290.42" x2="161.3" y2="290.42" stroke="#000" stroke-width="2.2"/>
<line x1="154.8" y1="285.45" x2="161.3" y2="285.45" stroke="#000" stroke-width="2.2"/>
<line x1="154.8" y1="281.06" x2="161.3" y2="281.06" stroke="#000" stroke-width="2.2"/>
<line x1="148.8" y1="277.14" x2="161.3" y2="277.14" stroke="#000" stroke-width="2.6"/>
<line x1="154.8" y1="251.34" x2="161.3" y2="251.34" stroke="#000" stroke-width="2.2"/>
<line x1="154.8" y1="236.25" x2="161.3" y2="236.25" stroke="#000" stroke-width="2.2"/>
<line x1="154.8" y1="225.54" x2="161.3" y2="225.54" stroke="#000" stroke-width="2.2"/>
<line x1="154.8" y1="217.23" x2="161.3" y2="217.23" stroke="#000" stroke-width="2.2"/>
<line x1="154.8" y1="210.44" x2="161.3" y2="210.44" stroke="#000" stroke-width="2.2"/>
<line x1="154.8" y1="204.71" x2="161.3" y2="204.71" stroke="#000" stroke-width="2.2"/>
<line x1="154.8" y1="199.74" x2="161.3" y2="199.74" stroke="#000" stroke-width="2.2"/>
<line x1="154.8" y1="195.35" x2="161.3" y2="195.35" stroke="#000" stroke-width="2.2"/>
<line x1="148.8" y1="191.43" x2="161.3" y2="191.43" stroke="#000" stroke-width="2.6"/>
<line x1="154.8" y1="165.63" x2="161.3" y2="165.63" stroke="#000" stroke-width="2.2"/>
<line x1="154.8" y1="150.53" x2="161.3" y2="150.53" stroke="#000" stroke-width="2.2"/>
<line x1="154.8" y1="139.82" x2="161.3" y2="139.82" stroke="#000" stroke-width="2.2"/>
<line x1="154.8" y1="131.52" x2="161.3" y2="131.52" stroke="#000" stroke-width="2.2"/>
<line x1="154.8" y1="124.73" x2="161.3" y2="124.73" stroke="#000" stroke-width="2.2"/>
<line x1="154.8" y1="118.99" x2="161.3" y2="118.99" stroke="#000" stroke-width="2.2"/>
<line x1="154.8" y1="114.02" x2="161.3" y2="114.02" stroke="#000" stroke-width="2.2"/>
<line x1="154.8" y1="109.64" x2="161.3" y2="109.64" stroke="#000" stroke-width="2.2"/>
<line x1="148.8" y1="105.71" x2="161.3" y2="105.71" stroke="#000" stroke-width="2.6"/>
<line x1="154.8" y1="79.91" x2="161.3" y2="79.91" stroke="#000" stroke-width="2.2"/>
<line x1="154.8" y1="64.82" x2="161.3" y2="64.82" stroke="#000" stroke-width="2.2"/>
<line x1="154.8" y1="54.11" x2="161.3" y2="54.11" stroke="#000" stroke-width="2.2"/>
<line x1="154.8" y1="45.80" x2="161.3" y2="45.80" stroke="#000" stroke-width="2.2"/>
<line x1="154.8" y1="39.02" x2="161.3" y2="39.02" stroke="#000" stroke-width="2.2"/>
<line x1="154.8" y1="33.28" x2="161.3" y2="33.28" stroke="#000" stroke-width="2.2"/>
<line x1="154.8" y1="28.31" x2="161.3" y2="28.31" stroke="#000" stroke-width="2.2"/>
<line x1="154.8" y1="23.92" x2="161.3" y2="23.92" stroke="#000" stroke-width="2.2"/>
<line x1="148.8" y1="20.00" x2="161.3" y2="20.00" stroke="#000" stroke-width="2.6"/>
<text x="141" y="31.30" text-anchor="end" class="t" style="font-size:41px">0.01</text>
<text x="141" y="117.01" text-anchor="end" class="t" style="font-size:41px">1E-3</text>
<text x="141" y="202.73" text-anchor="end" class="t" style="font-size:41px">1E-4</text>
<text x="141" y="288.44" text-anchor="end" class="t" style="font-size:41px">1E-5</text>
<text x="141" y="374.16" text-anchor="end" class="t" style="font-size:41px">1E-6</text>
<text x="141" y="459.87" text-anchor="end" class="t" style="font-size:41px">1E-7</text>
<text x="141" y="545.59" text-anchor="end" class="t" style="font-size:41px">1E-8</text>
<text x="141" y="631.30" text-anchor="end" class="t" style="font-size:41px">1E-9</text>
<line x1="161.25" y1="620" x2="161.25" y2="632" stroke="#000" stroke-width="2.6"/>
<text x="161.25" y="670.5" text-anchor="middle" class="t">-1.2</text>
<line x1="211.30" y1="620" x2="211.30" y2="626.5" stroke="#000" stroke-width="2.2"/>
<line x1="260.50" y1="620" x2="260.50" y2="632" stroke="#000" stroke-width="2.6"/>
<text x="260.50" y="670.5" text-anchor="middle" class="t">-0.9</text>
<line x1="310.00" y1="620" x2="310.00" y2="626.5" stroke="#000" stroke-width="2.2"/>
<line x1="359.60" y1="620" x2="359.60" y2="632" stroke="#000" stroke-width="2.6"/>
<text x="359.60" y="670.5" text-anchor="middle" class="t">-0.6</text>
<line x1="409.20" y1="620" x2="409.20" y2="626.5" stroke="#000" stroke-width="2.2"/>
<line x1="457.80" y1="620" x2="457.80" y2="632" stroke="#000" stroke-width="2.6"/>
<text x="457.80" y="670.5" text-anchor="middle" class="t">-0.3</text>
<line x1="507.20" y1="620" x2="507.20" y2="626.5" stroke="#000" stroke-width="2.2"/>
<line x1="556.50" y1="620" x2="556.50" y2="632" stroke="#000" stroke-width="2.6"/>
<text x="556.50" y="670.5" text-anchor="middle" class="t">0.0</text>
<line x1="606.60" y1="620" x2="606.60" y2="626.5" stroke="#000" stroke-width="2.2"/>
<line x1="656.00" y1="620" x2="656.00" y2="632" stroke="#000" stroke-width="2.6"/>
<text x="656.00" y="670.5" text-anchor="middle" class="t">0.3</text>
<line x1="705.60" y1="620" x2="705.60" y2="626.5" stroke="#000" stroke-width="2.2"/>
<line x1="755.00" y1="620" x2="755.00" y2="632" stroke="#000" stroke-width="2.6"/>
<text x="755.00" y="670.5" text-anchor="middle" class="t">0.6</text>
<line x1="805.20" y1="620" x2="805.20" y2="626.5" stroke="#000" stroke-width="2.2"/>
<line x1="854.30" y1="620" x2="854.30" y2="632" stroke="#000" stroke-width="2.6"/>
<text x="854.30" y="670.5" text-anchor="middle" class="t">0.9</text>
<line x1="902.60" y1="620" x2="902.60" y2="626.5" stroke="#000" stroke-width="2.2"/>
<line x1="952.10" y1="620" x2="952.10" y2="632" stroke="#000" stroke-width="2.6"/>
<text x="952.10" y="670.5" text-anchor="middle" class="t">1.2</text>
<text x="420.5" y="714" class="t"><tspan letter-spacing="0.3">Potential</tspan><tspan font-size="25" dy="16" letter-spacing="0.2">vs.SCE</tspan><tspan dy="-16" dx="-1.5">(<tspan dx="0.5">m</tspan><tspan dx="3">V</tspan><tspan dx="0.5">)</tspan></tspan></text>
<text transform="translate(45,514.5) rotate(-90) scale(1.016,1.075)" class="t">Current density(A/cm<tspan font-size="23" dy="-20">2</tspan><tspan dy="20">)</tspan></text>
<line x1="807.8" y1="309.90" x2="872.8" y2="309.90" stroke="#000000" stroke-width="3.6" stroke-linecap="round"/>
<text x="879.5" y="320.0" class="lg">0</text>
<ellipse cx="902.6" cy="302.8" rx="4.9" ry="5.1" fill="none" stroke="#000" stroke-width="2.2"/>
<line x1="807.8" y1="351.96" x2="872.8" y2="351.96" stroke="#ff0000" stroke-width="3.6" stroke-linecap="round"/>
<text x="879.5" y="362.1" class="lg">15</text>
<ellipse cx="920.6" cy="344.9" rx="4.9" ry="5.1" fill="none" stroke="#000" stroke-width="2.2"/>
<line x1="807.8" y1="394.02" x2="872.8" y2="394.02" stroke="#0000ff" stroke-width="3.6" stroke-linecap="round"/>
<text x="879.5" y="404.1" class="lg">30</text>
<ellipse cx="920.6" cy="386.9" rx="4.9" ry="5.1" fill="none" stroke="#000" stroke-width="2.2"/>
<line x1="807.8" y1="436.08" x2="872.8" y2="436.08" stroke="#007070" stroke-width="3.6" stroke-linecap="round"/>
<text x="879.5" y="446.2" class="lg">45</text>
<ellipse cx="920.6" cy="429.0" rx="4.9" ry="5.1" fill="none" stroke="#000" stroke-width="2.2"/>
<line x1="807.8" y1="478.14" x2="872.8" y2="478.14" stroke="#ff00ff" stroke-width="3.6" stroke-linecap="round"/>
<text x="879.5" y="488.2" class="lg">60</text>
<ellipse cx="920.6" cy="471.0" rx="4.9" ry="5.1" fill="none" stroke="#000" stroke-width="2.2"/>
<line x1="807.8" y1="520.20" x2="872.8" y2="520.20" stroke="#707000" stroke-width="3.6" stroke-linecap="round"/>
<text x="879.5" y="530.3" class="lg">75</text>
<ellipse cx="920.6" cy="513.1" rx="4.9" ry="5.1" fill="none" stroke="#000" stroke-width="2.2"/>
<line x1="807.8" y1="562.26" x2="872.8" y2="562.26" stroke="#000070" stroke-width="3.6" stroke-linecap="round"/>
<text x="879.5" y="572.4" class="lg">90</text>
<ellipse cx="920.6" cy="555.2" rx="4.9" ry="5.1" fill="none" stroke="#000" stroke-width="2.2"/>
</svg>
</body></html>
